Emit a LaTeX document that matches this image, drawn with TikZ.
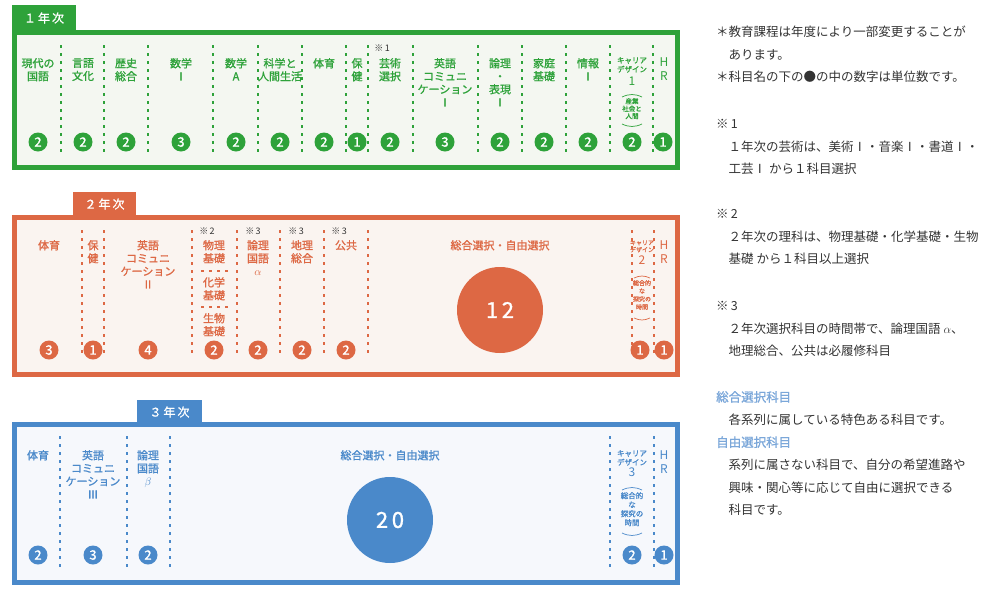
\documentclass[tikz,border=0pt]{standalone}
\usepackage{fontspec}
\setmainfont{Noto Sans CJK JP}[BoldFont={Noto Sans CJK JP},BoldFeatures={FakeBold=1.2}]
\usetikzlibrary{positioning}

\definecolor{gr}{HTML}{2EA23A}
\definecolor{grbg}{HTML}{F4F7F1}
\definecolor{og}{HTML}{DD6844}
\definecolor{ogbg}{HTML}{FAF4F0}
\definecolor{bl}{HTML}{4A89CA}
\definecolor{blbg}{HTML}{F6F8FC}
\definecolor{note}{HTML}{7BA7D9}
\definecolor{txt}{HTML}{333333}

\tikzset{
  frame/.style={draw=#1,line width=5pt},
  tab/.style={fill=#1,text=white,font=\bfseries\fontsize{12}{12}\selectfont,inner sep=0pt},
  sep/.style={draw=#1,line width=2.8pt,dash pattern=on 2.8pt off 5.2pt},
  lbl/.style={text=#1,font=\bfseries\fontsize{11}{13}\selectfont,align=center,anchor=north,inner sep=0pt},
  small/.style={text=#1,font=\bfseries\fontsize{7.5}{9}\selectfont,align=center,anchor=north,inner sep=0pt},
  num/.style={circle,fill=#1,text=white,font=\bfseries\fontsize{13}{13}\selectfont,inner sep=0pt,minimum size=19pt},
  big/.style={circle,fill=#1,text=white,font=\bfseries\fontsize{22}{22}\selectfont,inner sep=0pt,minimum size=86pt},
  notemark/.style={font=\fontsize{9}{9}\selectfont,text=txt,inner sep=0pt},
  hr/.style={text=#1,font=\fontsize{12}{14}\selectfont,align=center,anchor=north,inner sep=0pt},
  para/.style={text=txt,font=\fontsize{12.5}{22.6}\selectfont,align=left,anchor=north west,inner sep=0pt}
}

\begin{document}
\begin{tikzpicture}[x=1pt,y=-1pt]
\useasboundingbox (0,0) rectangle (998,600);

%% 1年次
\fill[gr] (12,5) rectangle (76,32);
\node[tab=gr] (t1) at (44,18) {１\,年\,次};
\draw[frame=gr,fill=grbg] (14.5,32.5) rectangle (677.5,167.5);
\foreach \x in {61,104,148,213,258,302,346,368,413,478,522,566,610,653}
  \draw[sep=gr] (\x,45) -- (\x,156);
\node[lbl=gr] (a1) at (38,58) {現代の\\国語};
\node[lbl=gr] (a2) at (83,58) {言語\\文化};
\node[lbl=gr] (a3) at (126,58) {歴史\\総合};
\node[lbl=gr] (a4) at (181,58) {数学\\Ⅰ};
\node[lbl=gr] (a5) at (236,58) {数学\\A};
\node[lbl=gr] (a6) at (280,58) {科学と\\人間生活};
\node[lbl=gr] (a7) at (324,58) {体育};
\node[lbl=gr] (a8) at (357,58) {保\\健};
\node[notemark] (m1) at (382,48) {※\,1};
\node[lbl=gr] (a9) at (390,58) {芸術\\選択};
\node[lbl=gr] (a10) at (445,58) {英語\\コミュニ\\ケーション\\Ⅰ};
\node[lbl=gr] (a11) at (500,58) {論理\\・\\表現\\Ⅰ};
\node[lbl=gr] (a12) at (544,58) {家庭\\基礎};
\node[lbl=gr] (a13) at (588,58) {情報\\Ⅰ};
\node[small=gr] (a14) at (632,57) {キャリア\\デザイン};
\node[lbl=gr,font=\fontsize{12}{12}\selectfont] (a14n) at (632,77) {1};
\node[small=gr,font=\bfseries\fontsize{6.5}{7.5}\selectfont] (a14s) at (632,98) {産業\\社会と\\人間};
\draw[gr,line width=.7pt] (622,97) to[bend left=25] (642,97);
\draw[gr,line width=.7pt] (622,124) to[bend right=25] (642,124);
\node[hr=gr] (a15) at (664,58) {H\\R};
\foreach \x/\n in {38/2,83/2,126/2,181/3,236/2,280/2,324/2,357/1,390/2,445/3,500/2,544/2,588/2,632/2,663/1}
  \node[num=gr] (c1-\x) at (\x,142) {\n};

%% 2年次
\fill[og] (73,192) rectangle (136,217);
\node[tab=og] (t2) at (104.5,204) {２\,年\,次};
\draw[frame=og,fill=ogbg] (14.5,217.5) rectangle (677.5,374.5);
\foreach \x in {82,104,192,237,280,324,368,632,654}
  \draw[sep=og] (\x,230) -- (\x,357);
\draw[sep=og] (201,271) -- (230,271);
\draw[sep=og] (201,307) -- (230,307);
\node[lbl=og] (b1) at (49,240) {体育};
\node[lbl=og] (b2) at (93,240) {保\\健};
\node[lbl=og] (b3) at (148,240) {英語\\コミュニ\\ケーション\\Ⅱ};
\node[notemark] (m2) at (207,231) {※\,2};
\node[lbl=og] (b4) at (214,240) {物理\\基礎};
\node[lbl=og] (b5) at (214,277) {化学\\基礎};
\node[lbl=og] (b6) at (214,313) {生物\\基礎};
\foreach \x in {253,296,339}
  \node[notemark] (m3-\x) at (\x,231) {※\,3};
\node[lbl=og] (b7) at (258,240) {論理\\国語\\\textcolor{og}{$\alpha$}};
\node[lbl=og] (b8) at (302,240) {地理\\総合};
\node[lbl=og] (b9) at (346,240) {公共};
\node[lbl=og] (b10) at (500,240) {総合選択・自由選択};
\node[big=og] (b11) at (500,310) {1\,2};
\node[small=og,font=\bfseries\fontsize{6}{7}\selectfont] (b12) at (642,240) {キャリア\\デザイン};
\node[lbl=og,font=\fontsize{12}{12}\selectfont] (b12n) at (642,256) {2};
\node[small=og,font=\bfseries\fontsize{6}{8}\selectfont] (b12s) at (642,280) {総合的\\な\\探究の\\時間};
\draw[og,line width=.7pt] (634,278) to[bend left=25] (650,278);
\draw[og,line width=.7pt] (634,318) to[bend right=25] (650,318);
\node[hr=og] (b13) at (664,240) {H\\R};
\foreach \x/\n in {49/3,93/1,148/4,214/2,258/2,302/2,346/2,640/1,664/1}
  \node[num=og] (c2-\x) at (\x,350) {\n};

%% 3年次
\fill[bl] (137,400) rectangle (202,424);
\node[tab=bl] (t3) at (169.5,412) {３\,年\,次};
\draw[frame=bl,fill=blbg] (14.5,424.5) rectangle (677.5,582.5);
\foreach \x in {60,127,170,610,654}
  \draw[sep=bl] (\x,436) -- (\x,570);
\node[lbl=bl] (d1) at (38,450) {体育};
\node[lbl=bl] (d2) at (93,450) {英語\\コミュニ\\ケーション\\Ⅲ};
\node[lbl=bl] (d3) at (148,450) {論理\\国語\\\textcolor{bl}{$\beta$}};
\node[lbl=bl] (d4) at (390,450) {総合選択・自由選択};
\node[big=bl] (d5) at (390,520) {2\,0};
\node[small=bl] (d6) at (632,450) {キャリア\\デザイン};
\node[lbl=bl,font=\fontsize{12}{12}\selectfont] (d6n) at (632,468) {3};
\node[small=bl] (d6s) at (632,492) {総合的\\な\\探究の\\時間};
\draw[bl,line width=.7pt] (622,490) to[bend left=25] (642,490);
\draw[bl,line width=.7pt] (622,533) to[bend right=25] (642,533);
\node[hr=bl] (d7) at (664,450) {H\\R};
\foreach \x/\n in {38/2,93/3,148/2,632/2,664/1}
  \node[num=bl] (c3-\x) at (\x,555) {\n};

%% 注記
\node[para] (n1) at (716,26) {＊教育課程は年度により一部変更することが\\\hspace{1em}あります。\\＊科目名の下の●の中の数字は単位数です。};
\node[para] (n2) at (716,119) {※\,1\\\hspace{1em}１年次の芸術は、美術Ⅰ・音楽Ⅰ・書道Ⅰ・\\\hspace{1em}工芸Ⅰ から１科目選択};
\node[para] (n3) at (716,209) {※\,2\\\hspace{1em}２年次の理科は、物理基礎・化学基礎・生物\\\hspace{1em}基礎 から１科目以上選択};
\node[para] (n4) at (716,301) {※\,3\\\hspace{1em}２年次選択科目の時間帯で、論理国語 $\alpha$、\\\hspace{1em}地理総合、公共は必履修科目};
\node[para] (n5) at (716,391) {\textcolor{note}{\bfseries 総合選択科目}\\\hspace{1em}各系列に属している特色ある科目です。\\\textcolor{note}{\bfseries 自由選択科目}\\\hspace{1em}系列に属さない科目で、自分の希望進路や\\\hspace{1em}興味・関心等に応じて自由に選択できる\\\hspace{1em}科目です。};
\end{tikzpicture}
\end{document}
